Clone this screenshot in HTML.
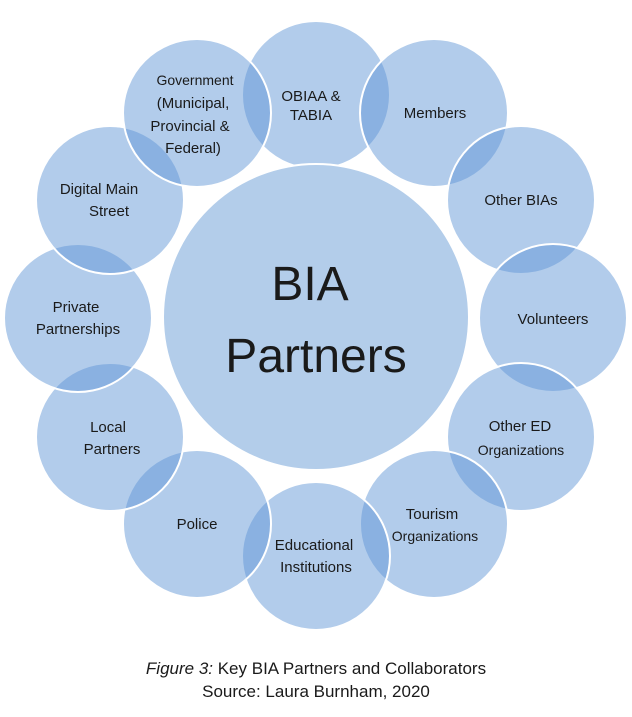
<!DOCTYPE html>
<html><head><meta charset="utf-8"><style>
html,body{margin:0;padding:0;background:#fff;width:632px;height:717px;overflow:hidden}
svg text{font-family:"Liberation Sans",sans-serif;fill:#1a1a1a;text-anchor:middle}
</style></head><body>
<svg width="632" height="717" viewBox="0 0 632 717">
<g fill="rgba(95,148,214,0.48)" stroke="#fff" stroke-width="2">
<circle cx="316" cy="95" r="74"/>
<circle cx="434" cy="113" r="74"/>
<circle cx="521" cy="200" r="74"/>
<circle cx="553" cy="318" r="74"/>
<circle cx="521" cy="437" r="74"/>
<circle cx="434" cy="524" r="74"/>
<circle cx="316" cy="556" r="74"/>
<circle cx="197" cy="524" r="74"/>
<circle cx="110" cy="437" r="74"/>
<circle cx="78" cy="318" r="74"/>
<circle cx="110" cy="200" r="74"/>
<circle cx="197" cy="113" r="74"/>
</g>
<circle cx="316" cy="317" r="153" fill="#b3cdea" stroke="#fff" stroke-width="2"/>
<text x="310" y="300" font-size="48">BIA</text>
<text x="316" y="372" font-size="48">Partners</text>
<g font-size="15">
<text x="311" y="101">OBIAA &amp;</text>
<text x="311" y="99" dy="-0.0"></text>
<text x="312" y="100" dy="0"></text>
<text x="311" y="101" dy="19">TABIA</text>
<text x="435" y="118">Members</text>
<text x="521" y="205">Other BIAs</text>
<text x="553" y="324">Volunteers</text>
<text x="520" y="431">Other ED</text>
<text x="521" y="455" font-size="14">Organizations</text>
<text x="432" y="519">Tourism</text>
<text x="435" y="541" font-size="14">Organizations</text>
<text x="314" y="550">Educational</text>
<text x="316" y="572">Institutions</text>
<text x="197" y="529">Police</text>
<text x="108" y="432">Local</text>
<text x="112" y="454">Partners</text>
<text x="76" y="312">Private</text>
<text x="78" y="334">Partnerships</text>
<text x="99" y="194">Digital Main</text>
<text x="109" y="216">Street</text>
<text x="195" y="85" font-size="14">Government</text>
<text x="193" y="108">(Municipal,</text>
<text x="190" y="131">Provincial &amp;</text>
<text x="193" y="153">Federal)</text>
</g>
<text x="316" y="674" font-size="17"><tspan font-style="italic">Figure 3:</tspan> Key BIA Partners and Collaborators</text>
<text x="316" y="697" font-size="17">Source: Laura Burnham, 2020</text>
</svg>
</body></html>
